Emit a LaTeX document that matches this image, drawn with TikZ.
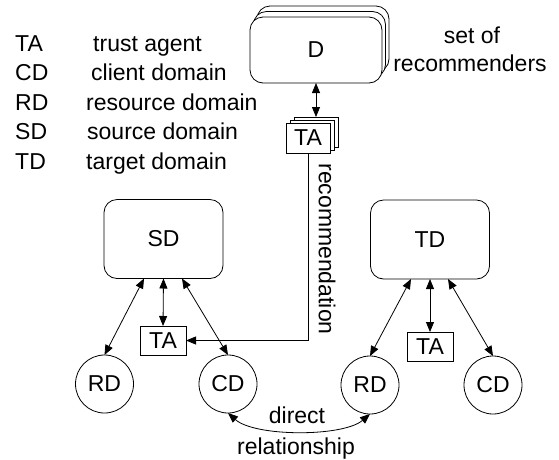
\documentclass[tikz,border=0pt]{standalone}
\usepackage{fontspec}
\setmainfont{Liberation Sans}
\usetikzlibrary{arrows.meta,calc}
\begin{document}
\begin{tikzpicture}[x=1pt,y=-1pt,
  every node/.style={font=\fontsize{23}{27}\selectfont},
  ln/.style={line width=0.8pt},
  biarrow/.style={ln,{Triangle[length=10pt,width=8pt]}-{Triangle[length=10pt,width=8pt]}},
  onearrow/.style={ln,-{Triangle[length=10pt,width=8pt]}},
  rbox/.style={draw,ln,fill=white,rounded corners=13pt,minimum width=119pt,minimum height=79pt,inner sep=0pt,outer sep=0pt},
  dbox/.style={draw,ln,fill=white,rounded corners=13pt,minimum width=132pt,minimum height=66pt,inner sep=0pt,outer sep=0pt},
  tabox/.style={draw,ln,fill=white,minimum width=44pt,minimum height=30pt,inner sep=0pt,outer sep=0pt},
  dom/.style={draw,ln,circle,minimum size=58pt,inner sep=0pt,outer sep=0pt},
  leg/.style={anchor=base west,inner sep=0pt},
  txt/.style={anchor=base,inner sep=0pt}
]
\useasboundingbox (0,0) rectangle (559,459);
\fill[white] (0,0) rectangle (559,459);

% legend
\node[leg] (l1a) at (15,51) {TA};
\node[leg] (l1b) at (93,51) {trust agent};
\node[leg] (l2a) at (15,80.5) {CD};
\node[leg] (l2b) at (91,80.5) {client domain};
\node[leg] (l3a) at (15,110) {RD};
\node[leg] (l3b) at (86,110) {resource domain};
\node[leg] (l4a) at (15,139.5) {SD};
\node[leg] (l4b) at (87,139.5) {source domain};
\node[leg] (l5a) at (15,169) {TD};
\node[leg] (l5b) at (86,169) {target domain};

% recommenders
\node[dbox] (d2) at (323,39) {};
\node[dbox] (d1) at (319.5,44.5) {};
\node[dbox] (d0) at (316,50) {D};
\node[txt] (set1) at (472,43) {set of};
\node[txt] (set2) at (470,71) {recommenders};

\node[tabox] (ta2) at (316,132) {};
\node[tabox] (ta1) at (312,135) {};
\node[tabox] (ta0) at (308,138) {TA};

\draw[biarrow] (d0.south) -- (ta2.north);

% source side
\node[rbox] (sd) at (163.5,239) {SD};
\node[tabox,minimum width=46pt,minimum height=29pt] (sdta) at (163,340.5) {TA};
\node[dom] (sdrd) at (104.5,384) {RD};
\node[dom] (sdcd) at (228,384) {CD};
\draw[biarrow] ([xshift=-19.5pt]sd.south) -- (sdrd.north);
\draw[biarrow] (sd.south) -- (sdta.north);
\draw[biarrow] ([xshift=18.5pt]sd.south) -- (sdcd.north);

% target side
\node[rbox] (td) at (430,239.5) {TD};
\node[tabox,minimum width=46pt,minimum height=29pt] (tdta) at (430,346.5) {TA};
\node[dom] (tdrd) at (370,385) {RD};
\node[dom] (tdcd) at (493,385) {CD};
\draw[biarrow] ([xshift=-19pt]td.south) -- (tdrd.north);
\draw[biarrow] (td.south) -- (tdta.north);
\draw[biarrow] ([xshift=18pt]td.south) -- (tdcd.north);

% recommendation
\draw[onearrow] (ta0.south) |- (sdta.east);
\node[rotate=-90,inner sep=0pt] (rec) at (327,249) {recommendation};

% direct relationship
\draw[biarrow] (sdcd.south) .. controls (255,437) and (343,437) .. (tdrd.south);
\node[txt] (dir1) at (297,423) {direct};
\node[txt] (dir2) at (296,454) {relationship};
\end{tikzpicture}
\end{document}
